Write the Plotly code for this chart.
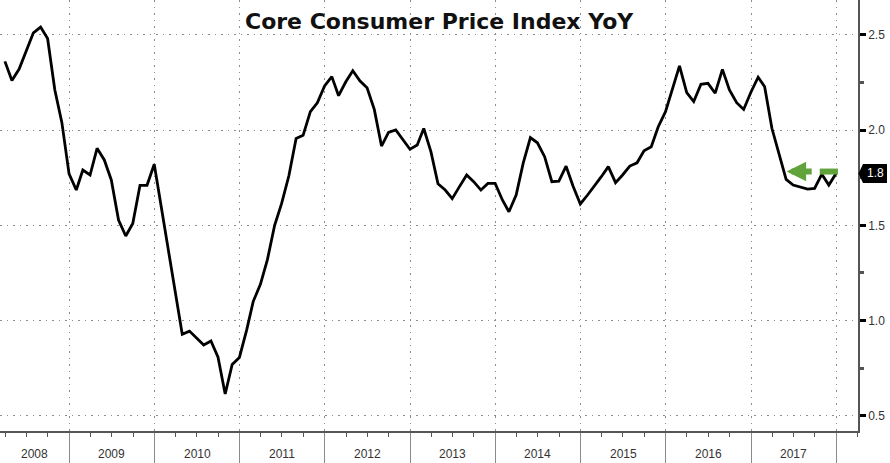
import pandas as pd
import plotly.graph_objects as go

# Monthly core CPI YoY (%), Mar 2008 .. Dec 2017
start_month = "2008-03"
end_month = "2017-12"
cpi_2008 = [2.36, 2.26, 2.32, 2.41, 2.51, 2.54, 2.48, 2.21, 2.04, 1.77]
cpi_2009 = [1.685, 1.79, 1.764, 1.904, 1.843, 1.738, 1.528, 1.444, 1.51, 1.71, 1.71, 1.82]
cpi_2010 = [1.59, 1.36, 1.13, 0.928, 0.945, 0.907, 0.872, 0.893, 0.81, 0.615, 0.77, 0.807]
cpi_2011 = [0.95, 1.10, 1.19, 1.32, 1.50, 1.615, 1.76, 1.956, 1.972, 2.096, 2.143, 2.231]
cpi_2012 = [2.28, 2.18, 2.253, 2.311, 2.257, 2.222, 2.108, 1.916, 1.988, 2.0, 1.948, 1.899]
cpi_2013 = [1.921, 2.008, 1.885, 1.718, 1.685, 1.64, 1.703, 1.764, 1.729, 1.685, 1.72, 1.72]
cpi_2014 = [1.633, 1.571, 1.659, 1.825, 1.96, 1.933, 1.86, 1.729, 1.732, 1.81, 1.705, 1.612]
cpi_2015 = [1.659, 1.703, 1.755, 1.808, 1.724, 1.764, 1.811, 1.828, 1.891, 1.912, 2.017, 2.096]
cpi_2016 = [2.219, 2.336, 2.196, 2.149, 2.24, 2.245, 2.193, 2.318, 2.21, 2.143, 2.108, 2.198]
cpi_2017 = [2.277, 2.227, 2.009, 1.878, 1.741, 1.711, 1.699, 1.69, 1.694, 1.768, 1.711, 1.772]

values = (cpi_2008 + cpi_2009 + cpi_2010 + cpi_2011 + cpi_2012 + cpi_2013
          + cpi_2014 + cpi_2015 + cpi_2016 + cpi_2017)
dates = pd.period_range(start_month, end_month, freq="M").to_timestamp(how="end").normalize()

year_labels = [str(y) for y in range(2008, 2018)]
y_tick_vals = [0.5, 1.0, 1.5, 2.0, 2.5]
y_tick_text = ["0.5", "1.0", "1.5", "2.0", "2.5"]
title_text = "Core Consumer Price Index YoY"
last_label = "1.8"

# style / layout constants
X_MIN = pd.Timestamp("2008-03-10")
X_MAX = pd.Timestamp("2018-04-04")
Y_RANGE = [0.421, 2.682]
W, H = 890, 463
ML, MR, MT, MB = 0, 32, 0, 32
GREEN = "#5fa33a"
TEXT = "#333333"
GRID = dict(showgrid=True, gridcolor="#8c8c8c", griddash="1.5px,5px", gridwidth=1.3)

fig = go.Figure()
fig.add_trace(go.Scatter(x=dates, y=values, mode="lines",
                         line=dict(color="black", width=2.8),
                         hoverinfo="skip", showlegend=False))

fig.update_layout(
    width=W, height=H,
    margin=dict(l=ML, r=MR, t=MT, b=MB, autoexpand=False),
    plot_bgcolor="white", paper_bgcolor="white",
    showlegend=False,
    xaxis=dict(
        type="date", range=[X_MIN, X_MAX],
        tick0="2008-01-01", dtick="M12",
        showticklabels=False,
        ticks="outside", ticklen=32, tickcolor="#8a8a8a", tickwidth=1,
        showline=True, linecolor="#555555", linewidth=1.5,
        minor=dict(dtick="M3", tick0="2008-01-01", ticks="outside", ticklen=4,
                   tickcolor="#555555", showgrid=False),
        zeroline=False, **GRID,
    ),
    yaxis=dict(
        side="right", range=Y_RANGE,
        tickmode="array", tickvals=y_tick_vals, ticktext=y_tick_text,
        ticks="outside", ticklen=6, tickwidth=2.5, tickcolor="black",
        tickfont=dict(family="Liberation Sans", size=12, color=TEXT),
        showline=True, linecolor="#555555", linewidth=1.5,
        minor=dict(dtick=0.25, tick0=0.25, ticks="outside", ticklen=4,
                   tickcolor="#555555", showgrid=False),
        zeroline=False, **GRID,
    ),
)

# Title
fig.add_annotation(text="<b>" + title_text + "</b>", xref="paper", yref="paper",
                   x=0.512, y=1 - 21 / 431, xanchor="center", yanchor="middle",
                   showarrow=False,
                   font=dict(family="DejaVu Sans", size=22, color="#111111"))

# Year labels centred in the visible part of each year
for lab in year_labels:
    y0 = max(pd.Timestamp(lab + "-01-01"), X_MIN)
    y1 = min(pd.Timestamp(str(int(lab) + 1) + "-01-01"), X_MAX)
    mid = y0 + (y1 - y0) / 2
    fig.add_annotation(text=lab, x=mid, xref="x", yref="paper", y=-23 / 431,
                       xanchor="center", yanchor="middle", showarrow=False,
                       font=dict(family="Liberation Sans", size=12, color=TEXT))

# Last-value tag on the right axis
last_v = values[-1]
vh = 0.05
px = lambda p: p / (W - ML - MR)
fig.add_shape(type="path", xref="paper", yref="y",
              path=(f"M {px(858.5)},{last_v} L {px(863)},{last_v + vh} L {px(887)},{last_v + vh} "
                    f"L {px(887)},{last_v - vh} L {px(863)},{last_v - vh} Z"),
              fillcolor="black", line=dict(width=0), layer="above")
fig.add_annotation(text=last_label, xref="paper", yref="y", x=px(875), y=last_v,
                   xanchor="center", yanchor="middle", showarrow=False,
                   font=dict(family="Liberation Sans", size=12, color="white"))

# Green arrow pointing at the latest level
arrow_y = last_v + 0.01
fig.add_annotation(x=pd.Timestamp("2017-06-02"), y=arrow_y,
                   ax=pd.Timestamp("2017-09-24"), ay=arrow_y,
                   xref="x", yref="y", axref="x", ayref="y",
                   text="", showarrow=True, arrowhead=2, arrowsize=0.65,
                   arrowwidth=6, arrowcolor=GREEN)
fig.add_shape(type="line", xref="x", yref="y",
              x0=pd.Timestamp("2017-10-22"), x1=pd.Timestamp("2018-01-08"),
              y0=arrow_y, y1=arrow_y, line=dict(color=GREEN, width=6))

fig.write_html("out.html", config={"displayModeBar": False},
               post_script="document.body.style.margin='0';document.body.style.overflow='hidden';")
